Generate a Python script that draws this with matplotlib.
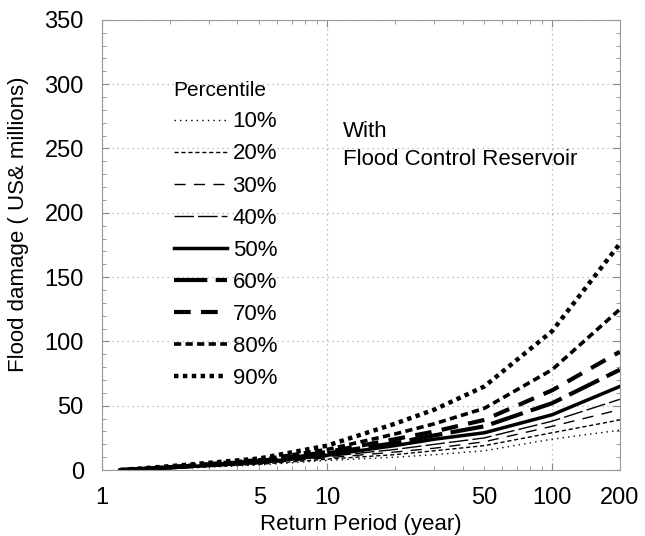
import matplotlib
matplotlib.use("Agg")
import matplotlib.pyplot as plt
from matplotlib.ticker import FuncFormatter, LogLocator, MultipleLocator

plt.rcParams["font.family"] = ["Liberation Sans", "DejaVu Sans"]

# return periods (years) and flood damage (US$ millions) per percentile
periods = [1.2, 2, 5, 10, 20, 30, 50, 100, 200]
p10 = [0, 1.0, 4.0, 7.5, 10, 12, 15, 24, 31]
p20 = [0, 1.2, 4.5, 8.5, 12, 15, 19, 29, 39]
p30 = [0, 1.4, 5.0, 9.5, 14, 17, 22, 34, 47]
p40 = [0, 1.6, 5.5, 10.5, 16, 20, 25, 38, 55]
p50 = [0, 1.8, 6.0, 11.5, 19, 24, 29, 43, 65]
p60 = [0, 2.0, 6.5, 13, 21, 27, 34, 52, 78]
p70 = [0, 2.2, 7.0, 14, 24, 30, 39, 62, 92]
p80 = [0, 2.5, 8.0, 16, 28, 36, 48, 78, 125]
p90 = [0, 3.0, 9.0, 19, 36, 47, 65, 108, 176]
labels = ["10%", "20%", "30%", "40%", "50%", "60%", "70%", "80%", "90%"]

series = [p10, p20, p30, p40, p50, p60, p70, p80, p90]
styles = [
    ((0, (1, 3)), 1.0),
    ((0, (3, 2)), 1.0),
    ((0, (8, 6)), 1.0),
    ((0, (14, 3)), 1.0),
    ("-", 2.5),
    ((0, (8, 2)), 3.0),
    ((0, (4, 2.5)), 3.0),
    ((0, (2, 1.2)), 2.6),
    ((0, (1, 1)), 3.2),
]

fig = plt.figure(figsize=(6.45, 5.36), dpi=100)
ax = fig.add_axes([0.158, 0.123, 0.803, 0.840])

for vals, lab, (ls, lw) in zip(series, labels, styles):
    ax.plot(periods, vals, color="black", linestyle=ls, linewidth=lw, label=lab)

ax.set_xscale("log")
ax.set_xlim(1, 200)
ax.set_ylim(0, 350)

ax.xaxis.set_major_locator(LogLocator(base=10))
ax.xaxis.set_minor_locator(LogLocator(base=10, subs=range(2, 10)))
ax.xaxis.set_major_formatter(FuncFormatter(lambda v, p: f"{v:g}"))
ax.xaxis.set_minor_formatter(
    FuncFormatter(lambda v, p: f"{v:g}" if round(v) in (5, 50, 200) else ""))
ax.yaxis.set_major_locator(MultipleLocator(50))
ax.yaxis.set_minor_locator(MultipleLocator(10))

ax.tick_params(which="both", direction="in", top=True, right=True,
               color="#888888", labelsize=17)
ax.tick_params(which="major", length=5)
ax.tick_params(which="minor", length=3)
ax.tick_params(axis="x", which="both", pad=12)
ax.tick_params(axis="y", which="both", pad=13)
for s in ax.spines.values():
    s.set_color("#999999")

ax.grid(True, which="major", color="#aaaaaa", linestyle=(0, (1, 3)), linewidth=0.9)

ax.set_xlabel("Return Period (year)", fontsize=16, labelpad=4)
ax.set_ylabel("Flood damage ( US& millions)", fontsize=16)
ax.yaxis.set_label_coords(-0.14, 0.545)

leg = ax.legend(loc="upper left", bbox_to_anchor=(0.1, 0.908), frameon=False,
                title="Percentile", fontsize=16, title_fontsize=15,
                handlelength=2.4, labelspacing=0.5, handletextpad=0.25)
leg._legend_box.align = "left"

ax.text(0.465, 0.775, "With\nFlood Control Reservoir", transform=ax.transAxes,
        fontsize=16, va="top", ha="left", linespacing=1.4)

fig.savefig("out.png", dpi=100)
